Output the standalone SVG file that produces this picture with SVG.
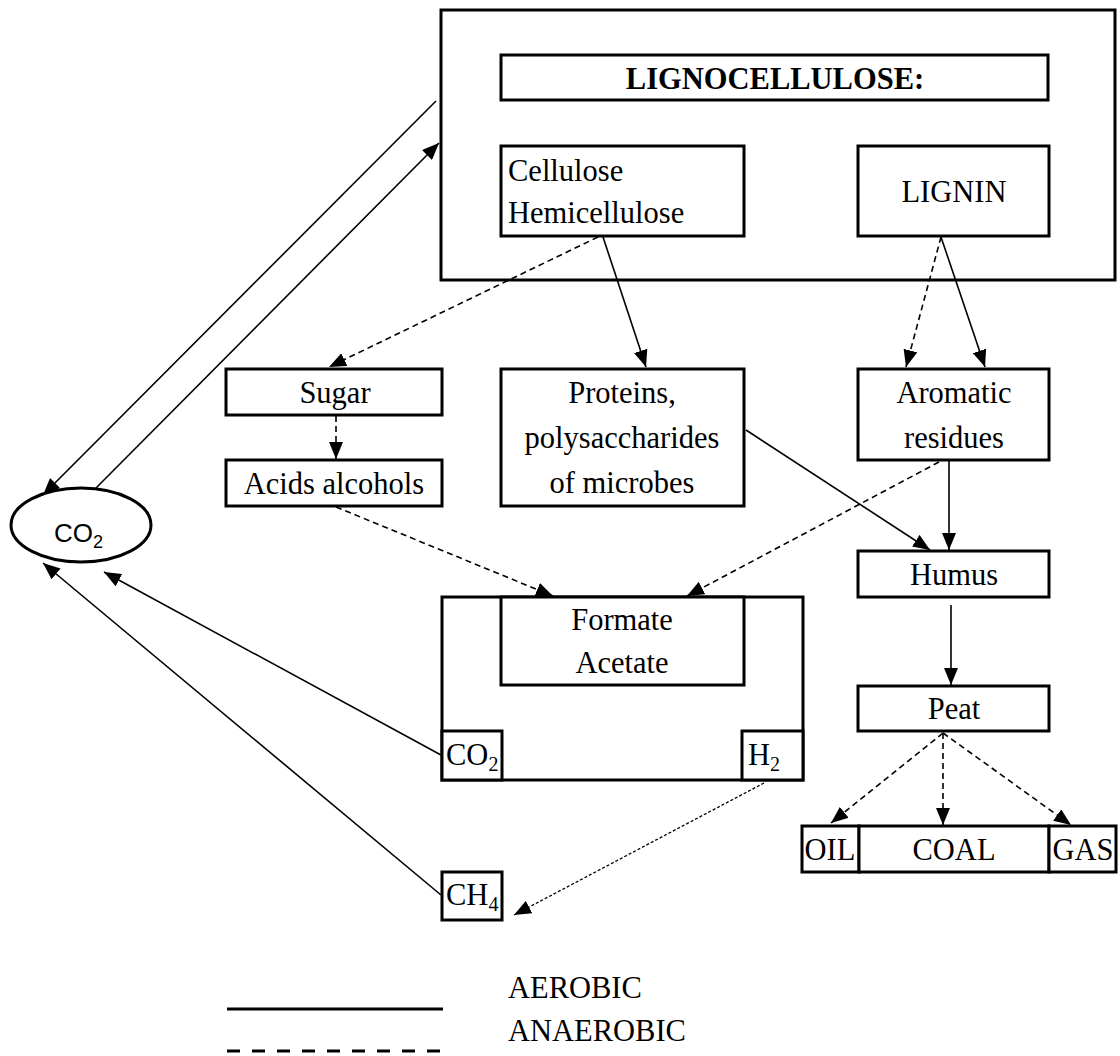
<svg xmlns="http://www.w3.org/2000/svg" width="1120" height="1056" viewBox="0 0 1120 1056">
<style>
.box{fill:#fff;stroke:#000;stroke-width:3}
.t{font-family:"Liberation Serif","Times New Roman",serif;font-size:30.5px;fill:#000}
.c{text-anchor:middle}
.b{font-weight:bold}
.s{font-family:"Liberation Sans",Arial,sans-serif;font-size:26px;fill:#000}
.ln{stroke:#000;stroke-width:1.6;fill:none}
.d{stroke-dasharray:6 4}
.dt{stroke-dasharray:3 2;stroke-width:1.3}
.sub{font-size:20px}
</style>
<defs>
<marker id="ah" markerUnits="userSpaceOnUse" markerWidth="17" markerHeight="14" refX="17" refY="7" orient="auto">
<path d="M0,0 L17,7 L0,14 z" fill="#000"/>
</marker>
</defs>
<rect width="1120" height="1056" fill="#fff"/>

<g id="lignocellulose-group">
<rect class="box" x="441" y="10" width="674" height="270"/>
</g>
<g id="lignocellulose">
<rect class="box" x="501" y="55" width="547" height="45"/>
<text class="t b c" x="775" y="89">LIGNOCELLULOSE:</text>
</g>
<g id="cellulose">
<rect class="box" x="501" y="146" width="243" height="90"/>
<text class="t" x="508" y="181">Cellulose</text>
<text class="t" x="508" y="223">Hemicellulose</text>
</g>
<g id="lignin">
<rect class="box" x="858" y="146" width="191" height="90"/>
<text class="t c" x="954" y="202">LIGNIN</text>
</g>
<g id="sugar">
<rect class="box" x="226" y="369" width="216" height="46"/>
<text class="t c" x="335" y="403">Sugar</text>
</g>
<g id="acids">
<rect class="box" x="226" y="460" width="216" height="46"/>
<text class="t c" x="334" y="494">Acids alcohols</text>
</g>
<g id="proteins">
<rect class="box" x="501" y="369" width="243" height="137"/>
<text class="t c" x="622" y="403">Proteins,</text>
<text class="t c" x="622" y="448">polysaccharides</text>
<text class="t c" x="622" y="493">of microbes</text>
</g>
<g id="aromatic">
<rect class="box" x="858" y="369" width="191" height="91"/>
<text class="t c" x="954" y="403">Aromatic</text>
<text class="t c" x="954" y="448">residues</text>
</g>
<g id="humus">
<rect class="box" x="858" y="551" width="191" height="46"/>
<text class="t c" x="954" y="585">Humus</text>
</g>
<g id="peat">
<rect class="box" x="858" y="686" width="191" height="45"/>
<text class="t c" x="954" y="719">Peat</text>
</g>
<g id="fermentation">
<rect class="box" x="442" y="597" width="361" height="183"/>
</g>
<g id="formate">
<rect class="box" x="501" y="597" width="243" height="88"/>
<text class="t c" x="622" y="630">Formate</text>
<text class="t c" x="622" y="673">Acetate</text>
</g>
<g id="co2-small">
<rect class="box" x="442" y="731" width="60" height="49"/>
<text class="t" x="446" y="765">CO<tspan class="sub" dy="6">2</tspan></text>
</g>
<g id="h2">
<rect class="box" x="742" y="731" width="61" height="49"/>
<text class="t" x="748" y="765">H<tspan class="sub" dy="6">2</tspan></text>
</g>
<g id="ch4">
<rect class="box" x="442" y="872" width="60" height="48"/>
<text class="t" x="446" y="905">CH<tspan class="sub" dy="6">4</tspan></text>
</g>
<g id="oil">
<rect class="box" x="802" y="826" width="57" height="46"/>
<text class="t c" x="830" y="860">OIL</text>
</g>
<g id="coal">
<rect class="box" x="859" y="826" width="190" height="46"/>
<text class="t c" x="954" y="860">COAL</text>
</g>
<g id="gas">
<rect class="box" x="1049" y="826" width="67" height="46"/>
<text class="t c" x="1083" y="860">GAS</text>
</g>
<g id="co2">
<ellipse cx="81" cy="525" rx="70" ry="37" fill="#fff" stroke="#000" stroke-width="3"/>
<text class="s" x="54" y="542">CO<tspan font-size="18" dy="6">2</tspan></text>
</g>

<g id="connectors">
<line class="ln" x1="436" y1="101" x2="43" y2="495" marker-end="url(#ah)"/>
<line class="ln" x1="96" y1="488" x2="439" y2="143" marker-end="url(#ah)"/>
<line class="ln d" x1="598" y1="237" x2="329" y2="367" marker-end="url(#ah)"/>
<line class="ln" x1="603" y1="237" x2="646" y2="367" marker-end="url(#ah)"/>
<line class="ln d" x1="941" y1="237" x2="906" y2="367" marker-end="url(#ah)"/>
<line class="ln" x1="941" y1="237" x2="985" y2="367" marker-end="url(#ah)"/>
<line class="ln d" x1="336" y1="416" x2="336" y2="459" marker-end="url(#ah)"/>
<line class="ln d" x1="336" y1="507" x2="553" y2="596" marker-end="url(#ah)"/>
<line class="ln d" x1="939" y1="462" x2="687" y2="596" marker-end="url(#ah)"/>
<line class="ln" x1="746" y1="430" x2="930" y2="550" marker-end="url(#ah)"/>
<line class="ln" x1="949" y1="461" x2="949" y2="550" marker-end="url(#ah)"/>
<line class="ln" x1="951" y1="605" x2="951" y2="685" marker-end="url(#ah)"/>
<line class="ln d" x1="943" y1="733" x2="831" y2="823" marker-end="url(#ah)"/>
<line class="ln d" x1="943" y1="733" x2="943" y2="825" marker-end="url(#ah)"/>
<line class="ln d" x1="943" y1="733" x2="1071" y2="825" marker-end="url(#ah)"/>
<line class="ln" x1="441" y1="755" x2="104" y2="572" marker-end="url(#ah)"/>
<line class="ln" x1="441" y1="895" x2="43" y2="563" marker-end="url(#ah)"/>
<line class="ln dt" x1="764" y1="783" x2="514" y2="915" marker-end="url(#ah)"/>
</g>

<g id="legend">
<line x1="227" y1="1009" x2="443" y2="1009" stroke="#000" stroke-width="3"/>
<line x1="227" y1="1051" x2="443" y2="1051" stroke="#000" stroke-width="3" stroke-dasharray="13 12"/>
<text class="t" x="508" y="998">AEROBIC</text>
<text class="t" x="508" y="1041">ANAEROBIC</text>
</g>
</svg>
